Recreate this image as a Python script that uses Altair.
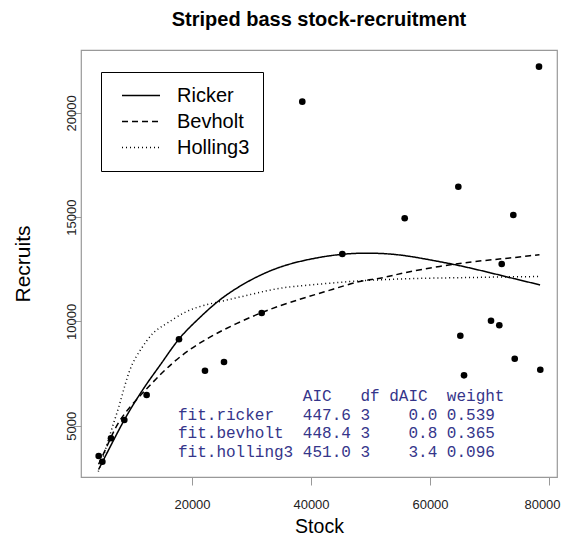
import altair as alt
import pandas as pd

# observed stock-recruitment points
stock = [4319, 4936, 6387, 8622, 12376, 17815, 22185, 25379, 31714, 38538, 45262,
         55748, 64760, 65096, 65718, 70254, 71650, 72054, 74004, 74240, 78320, 78539]
recruits = [3548, 3274, 4396, 5274, 6473, 9142, 7637, 8054, 10403, 20533, 13231,
            14943, 16458, 9315, 7416, 10034, 9813, 12752, 15101, 8212, 22211, 7685]

# fitted curves
ricker_s = [4300, 6000, 8000, 10000, 12500, 15000, 17800, 21000, 25000, 30000, 35000,
            40000, 45000, 50000, 55000, 60000, 65000, 70000, 74000, 78500]
ricker_r = [2900, 3850, 4950, 5950, 7050, 8050, 9150, 10100, 11100, 12000, 12620,
            12990, 13210, 13270, 13180, 12950, 12670, 12340, 12060, 11750]
bev_s = [4300, 6000, 8000, 11000, 14000, 18000, 24000, 31700, 38000, 43200, 48000,
         51600, 56600, 65000, 72000, 78400]
bev_r = [3150, 4200, 5300, 6350, 7250, 8300, 9400, 10420, 11050, 11500, 11900,
         12070, 12380, 12780, 13000, 13200]
hol_s = [4250, 5500, 6800, 8000, 9600, 11500, 13500, 16000, 19700, 24700, 30000,
         34800, 40000, 46000, 52000, 59500, 66000, 72000, 78500]
hol_r = [2800, 3900, 5100, 6200, 7700, 8700, 9450, 9950, 10550, 10950, 11300,
         11590, 11750, 11900, 12000, 12070, 12100, 12130, 12150]
models = ["Ricker", "Bevholt", "Holling3"]

# AIC table
fits = ["fit.ricker", "fit.bevholt", "fit.holling3"]
aic = [447.6, 448.4, 451.0]
dfs = [3, 3, 3]
daic = [0.0, 0.8, 3.4]
weight = [0.539, 0.365, 0.096]

points = pd.DataFrame({"Stock": stock, "Recruits": recruits})
frames = []
for name, s, r in zip(models, [ricker_s, bev_s, hol_s], [ricker_r, bev_r, hol_r]):
    frames.append(pd.DataFrame({"model": name, "Stock": s, "Recruits": r, "i": range(len(s))}))
curves = pd.concat(frames, ignore_index=True)

NB = "\u00a0"
CW = 9.6  # monospace character width in px
header = "AIC" + " " * 3 + "df" + " " + "dAIC" + "  " + "weight"
rows = [f"{m:<13}{a:.1f} {d}{da:>7.1f} {w:.3f}" for m, a, d, da, w in zip(fits, aic, dfs, daic, weight)]
lines_txt = [(header.replace(" ", NB), 13 * CW)] + [(r.replace(" ", NB), 0) for r in rows]

xs = alt.Scale(domain=[1345, 81345], nice=False, zero=False)
ys = alt.Scale(domain=[2541, 23011], nice=False, zero=False)

xaxis = alt.Axis(values=[20000, 40000, 60000, 80000], format="d", title="Stock",
                 grid=False, domain=False, tickColor="#999", tickSize=8,
                 labelFontSize=13, labelPadding=13,
                 labelOffset={"condition": {"test": "datum.value == 80000", "value": -7}, "value": 0},
                 titleFontSize=19.5, titlePadding=6)
yaxis = alt.Axis(values=[5000, 10000, 15000, 20000], format="d", title="Recruits",
                 grid=False, domain=False, tickColor="#999", tickSize=8,
                 labelFontSize=13, labelAngle=270, labelAlign="center",
                 labelBaseline="alphabetic", labelPadding=-2, titleFontSize=21, titlePadding=32)

pts = alt.Chart(points).mark_circle(size=44, color="black", opacity=1).encode(
    x=alt.X("Stock:Q", scale=xs, axis=xaxis),
    y=alt.Y("Recruits:Q", scale=ys, axis=yaxis),
)

lines = alt.Chart(curves).mark_line(color="black", strokeWidth=1.5, interpolate="natural").encode(
    x=alt.X("Stock:Q", scale=xs),
    y=alt.Y("Recruits:Q", scale=ys),
    order="i:Q",
    strokeDash=alt.StrokeDash(
        "model:N",
        scale=alt.Scale(domain=models, range=[[1, 0], [6, 4], [1, 3]]),
        legend=alt.Legend(title=None, orient="none", legendX=20, legendY=22,
                          strokeColor="black", fillColor="white", padding=13,
                          symbolType="M-2,0H2", symbolSize=361, symbolStrokeWidth=1.5,
                          symbolStrokeColor="black", symbolFillColor="transparent",
                          symbolOffset=16.5, labelOffset=25.5, labelFontSize=20,
                          labelFont="Liberation Sans", labelColor="black", rowPadding=5),
    ),
)

txt_layers = []
ypos = [346, 364.7, 383.3, 402]
for (r, dx), yp in zip(lines_txt, ypos):
    txt_layers.append(
        alt.Chart(pd.DataFrame({"t": [r]})).mark_text(
            font="Liberation Mono", fontSize=16, color="#35358a", align="left",
            baseline="middle", dx=dx
        ).encode(x=alt.value(97), y=alt.value(yp), text="t:N")
    )

chart = alt.layer(lines, pts, *txt_layers).properties(
    width=476, height=427,
    title=alt.TitleParams("Striped bass stock-recruitment", fontSize=20, font="Liberation Sans",
                          fontWeight="bold", anchor="middle", offset=20, color="black"),
    autosize=alt.AutoSizeParams(type="none"),
    padding={"left": 73, "top": 42, "right": 4, "bottom": 60},
).configure_view(stroke="#999", strokeWidth=1.2).configure_axis(
    labelFont="Liberation Sans", titleFont="Liberation Sans", labelColor="#222",
    titleColor="black", titleFontWeight="normal"
)

chart.save("out.html", embed_options={"renderer": "svg", "actions": False})
